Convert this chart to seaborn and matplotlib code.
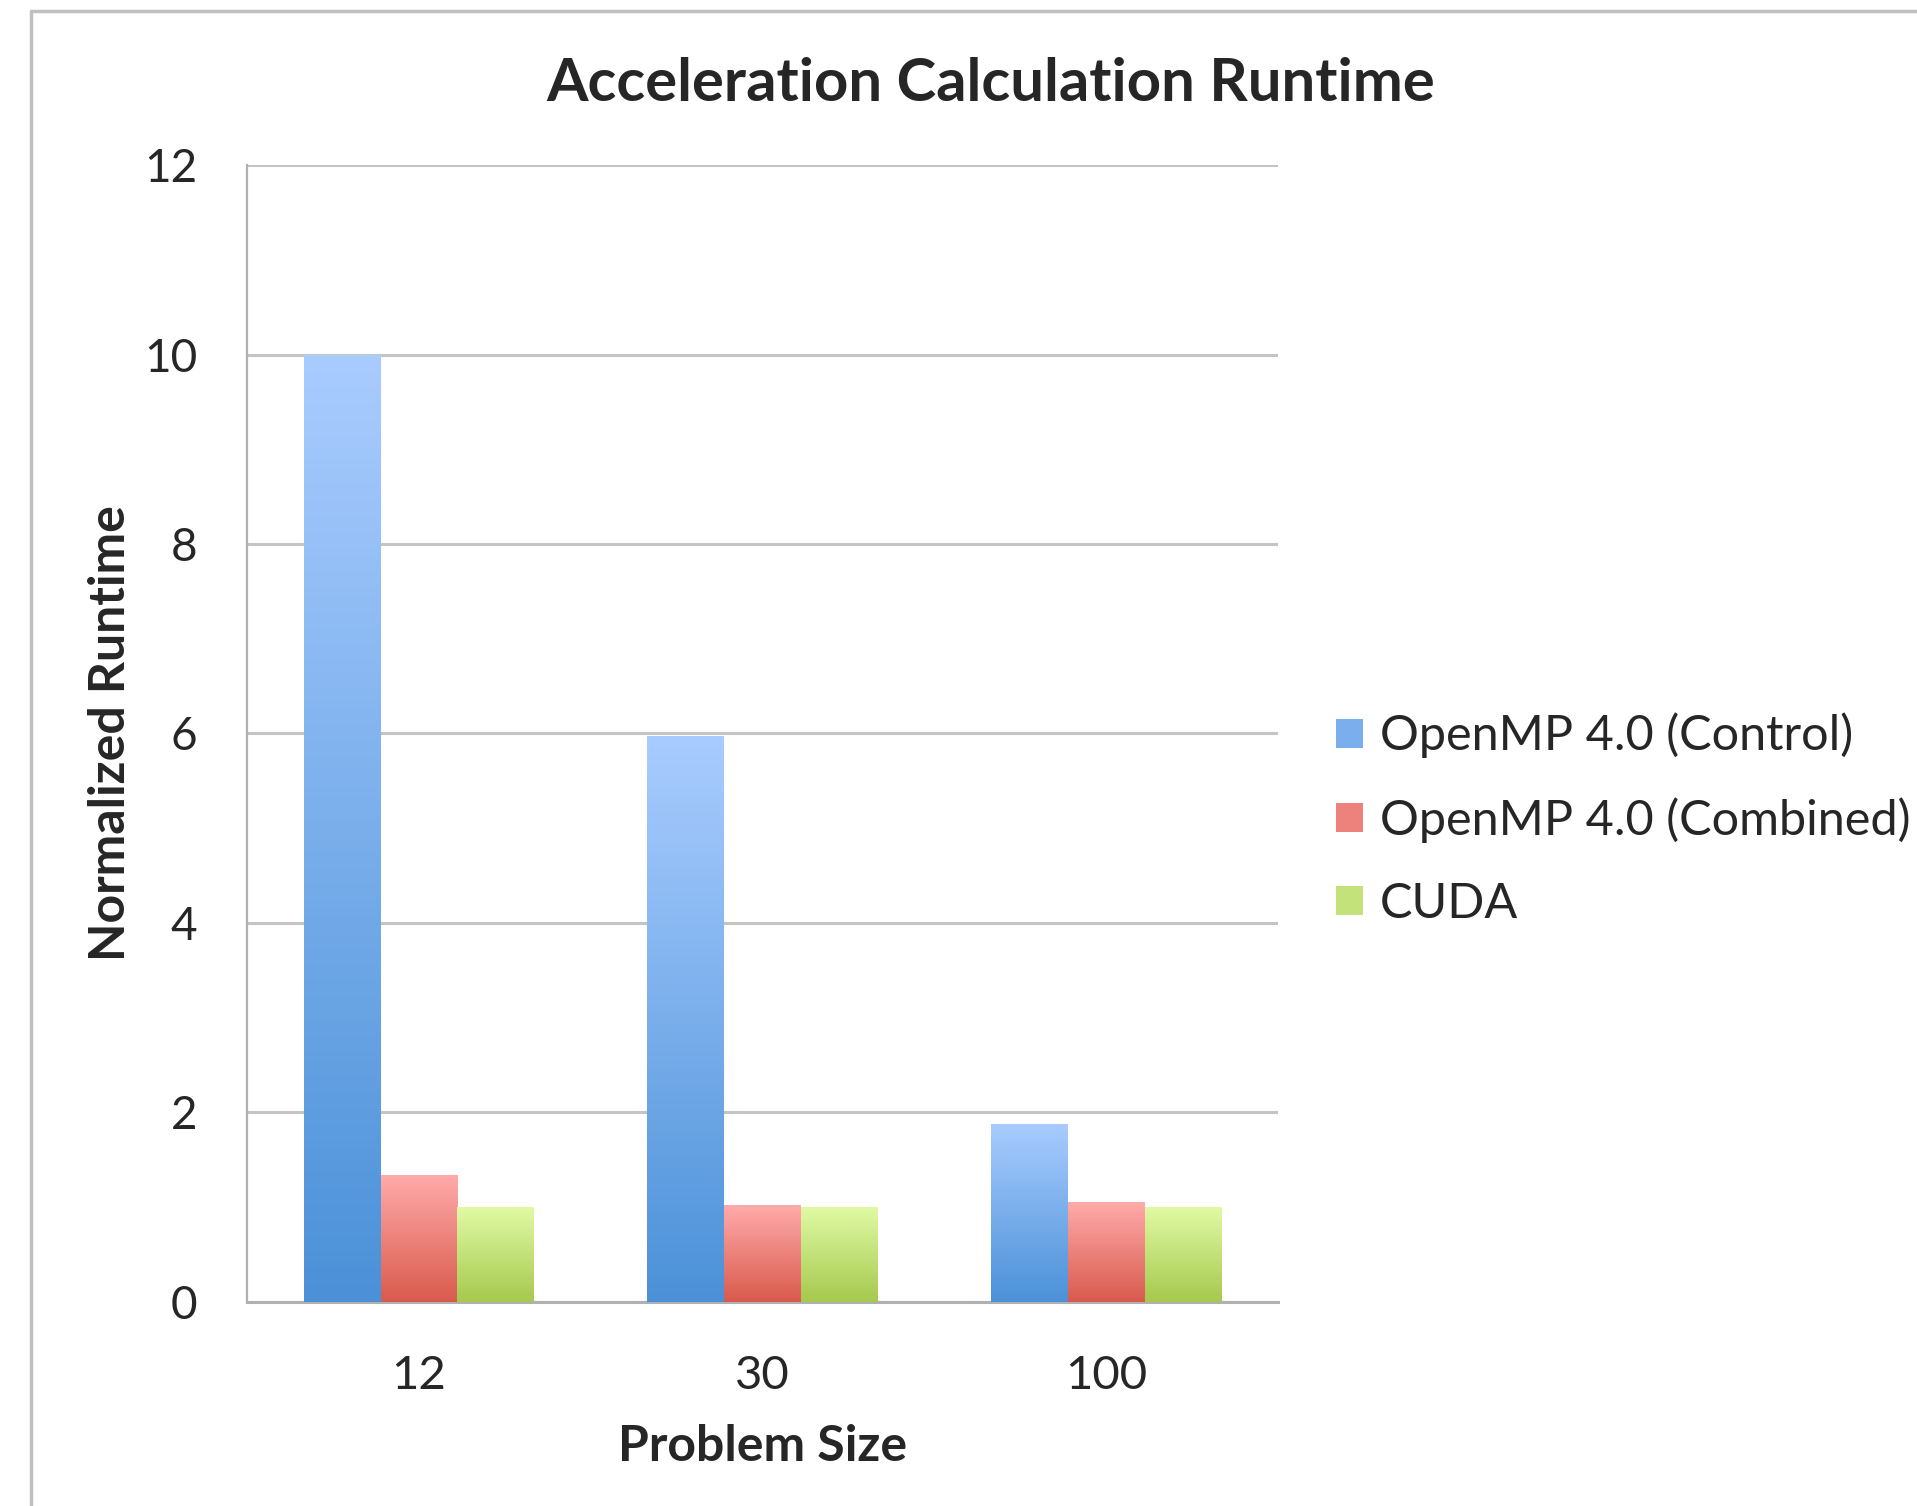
import numpy as np
import pandas as pd
import matplotlib
matplotlib.use("Agg")
import matplotlib.pyplot as plt
import seaborn as sns
from matplotlib.colors import LinearSegmentedColormap
from matplotlib.patches import Patch
from matplotlib.lines import Line2D

# Data
sizes = ["12", "30", "100"]
series = ["OpenMP 4.0 (Control)", "OpenMP 4.0 (Combined)", "CUDA"]
control = [10.0, 5.97, 1.88]
combined = [1.34, 1.02, 1.05]
cuda = [1.0, 1.0, 1.0]
y_ticks = [0, 2, 4, 6, 8, 10, 12]

# gradient colours (top, bottom) for each series
grad = {
    series[0]: ("#a9ccff", "#4b91d8"),
    series[1]: ("#ffabab", "#d95a4c"),
    series[2]: ("#e0faa4", "#a6c94e"),
}
mid = {s: matplotlib.colors.to_hex(np.mean([matplotlib.colors.to_rgb(c) for c in grad[s]], axis=0)) for s in series}

df = pd.DataFrame({
    "Problem Size": sizes * 3,
    "Series": [series[0]] * 3 + [series[1]] * 3 + [series[2]] * 3,
    "Runtime": control + combined + cuda,
})

sns.set_style("white")
plt.rcParams['font.family'] = ['Lato', 'DejaVu Sans']

fig = plt.figure(figsize=(19.17, 15.06), dpi=100)
ax = fig.add_axes([0.1289, 0.1355, 0.6667 - 0.1289, 0.8904 - 0.1355])

sns.barplot(data=df, x="Problem Size", y="Runtime", hue="Series", order=sizes,
            hue_order=series, palette=mid, width=0.67, ax=ax, legend=False,
            linewidth=0, saturation=1)

# gradient fill on each bar
for cont, s in zip(ax.containers, series):
    cmap = LinearSegmentedColormap.from_list(s, [grad[s][1], grad[s][0]])
    for bar in cont:
        x, y = bar.get_x(), bar.get_y()
        w, h = bar.get_width(), bar.get_height()
        img = np.linspace(0, 1, 256).reshape(-1, 1)
        im = ax.imshow(img, cmap=cmap, extent=[x, x + w, y, y + h], origin="lower",
                       aspect="auto", zorder=3)
        im.set_clip_path(bar)
        bar.set_facecolor("none")

ax.set_ylim(0, 12)
ax.set_xlim(-0.5, 2.5)

ax.set_yticks(y_ticks)
ax.yaxis.grid(True, color="#c4c4c4", linewidth=2.2, zorder=0)
ax.set_axisbelow(True)
for sp in ["top", "right"]:
    ax.spines[sp].set_visible(False)
ax.spines["left"].set_color("#b0b0b0")
ax.spines["left"].set_linewidth(1.6)
ax.spines["bottom"].set_color("#b0b0b0")
ax.spines["bottom"].set_linewidth(2.2)
ax.tick_params(axis="y", length=12, width=2.2, color="#c4c4c4", labelsize=33, pad=24)
ax.tick_params(axis="x", length=0, labelsize=34, pad=38)

ax.set_xlabel("Problem Size", fontsize=36, fontweight="bold", labelpad=20)
ax.set_ylabel("Normalized Runtime", fontsize=36, fontweight="bold", labelpad=8)
fig.text(0.517, 0.944, "Acceleration Calculation Runtime", fontsize=43, fontweight="bold",
         ha="center", va="center")

handles = [Patch(facecolor=mid[s], edgecolor="none") for s in series]
fig.legend(handles, series, loc="center left", bbox_to_anchor=(0.687, 0.456), frameon=False,
           fontsize=35, handlelength=0.55, handleheight=0.55, handletextpad=0.35,
           labelspacing=0.8, borderaxespad=0)

# outer chart border
fig.add_artist(Line2D([31 / 1917, 31 / 1917], [0, 1 - 11 / 1506], color="#c0c0c0", linewidth=2.5))
fig.add_artist(Line2D([31 / 1917, 1], [1 - 11 / 1506, 1 - 11 / 1506], color="#c0c0c0", linewidth=2.5))

fig.savefig("out.png", dpi=100)
